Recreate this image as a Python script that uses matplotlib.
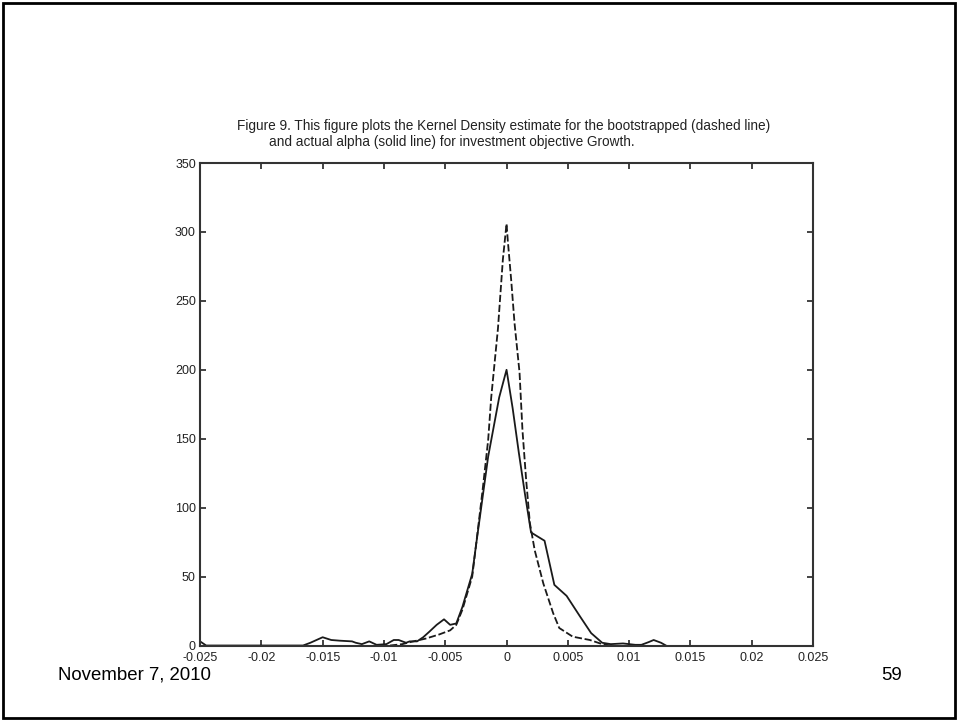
import matplotlib.pyplot as plt
from matplotlib.patches import Rectangle

plt.rcParams['font.family'] = ['Liberation Sans', 'DejaVu Sans']

# actual alpha (solid line)
actual_x = [-0.025, -0.0245, -0.0166, -0.016, -0.015, -0.0143, -0.0136, -0.0126, -0.0123, -0.0118,
            -0.0112, -0.0106, -0.0098, -0.0092, -0.0088, -0.0082, -0.0079, -0.0073, -0.0068, -0.0063,
            -0.0057, -0.0051, -0.0046, -0.0041, -0.0036, -0.0028, -0.0025, -0.0015, -0.0006, 0.0,
            0.0005, 0.001, 0.0015, 0.002, 0.0031, 0.0039, 0.0049, 0.006, 0.0069, 0.0078,
            0.0085, 0.0095, 0.0105, 0.011, 0.0116, 0.012, 0.0126, 0.013]
actual_y = [3, 0, 0, 2, 6, 4, 3.5, 3, 2, 1,
            3, 0.5, 1, 4, 4, 2, 3, 3, 6, 10,
            15, 19, 15, 16, 28, 52, 72, 137, 180, 200,
            172, 140, 110, 82, 76, 44, 36, 21, 9, 2,
            1, 1.5, 0.5, 0.5, 2.5, 4, 2, 0]

# bootstrapped alpha (dashed line)
boot_x = [-0.0095, -0.0085, -0.0077, -0.0066, -0.0055, -0.0046, -0.0041, -0.0036, -0.0028, -0.0025,
          -0.00195, -0.0015, -0.00125, -0.0007, -0.0003, 0.0, 0.0001, 0.00038, 0.00065, 0.00106,
          0.0013, 0.0016, 0.0019, 0.0023, 0.003, 0.0038, 0.0043, 0.0054, 0.0068, 0.0078, 0.0085]
boot_y = [0, 1, 2.8, 5, 8, 11, 15, 26, 50, 72,
          113, 149, 180, 230, 280, 306, 294, 265, 234, 198,
          156, 120, 89, 69, 45, 23.5, 12.7, 6.4, 4, 1, 0]

xticks = [-0.025, -0.02, -0.015, -0.01, -0.005, 0, 0.005, 0.01, 0.015, 0.02, 0.025]
xlabels = ['-0.025', '-0.02', '-0.015', '-0.01', '-0.005', '0', '0.005', '0.01', '0.015', '0.02', '0.025']
yticks = [0, 50, 100, 150, 200, 250, 300, 350]

fig = plt.figure(figsize=(9.59, 7.21), dpi=100)
ax = fig.add_axes([0.2086, 0.1047, 0.6392, 0.6692])

ax.plot(boot_x, boot_y, color='#1a1a1a', lw=1.3, linestyle=(0, (4, 1.5)))
ax.plot(actual_x, actual_y, color='#1a1a1a', lw=1.3)

ax.set_xlim(-0.025, 0.025)
ax.set_ylim(0, 350)
ax.set_xticks(xticks)
ax.set_xticklabels(xlabels)
ax.set_yticks(yticks)
ax.tick_params(direction='in', length=4, width=1.2, top=True, right=True,
               labelsize=9, colors='#222222')
ax.tick_params(axis='x', pad=5)
ax.tick_params(axis='y', pad=3)
for s in ax.spines.values():
    s.set_linewidth(1.5)
    s.set_color('#333333')

fig.text(237/959, 1-126/721, "Figure 9. This figure plots the Kernel Density estimate for the bootstrapped (dashed line)",
         fontsize=9.8, ha='left', va='center', color='#222222')
fig.text(269/959, 1-142/721, "and actual alpha (solid line) for investment objective Growth.",
         fontsize=9.8, ha='left', va='center', color='#222222')

fig.text(58/959, 1-675/721, "November 7, 2010", fontsize=13.4, ha='left', va='center')
fig.text(902/959, 1-675/721, "59", fontsize=13.4, ha='right', va='center')

fig.patches.append(Rectangle((3/959, 3/721), 952/959, 715/721, transform=fig.transFigure,
                             fill=False, edgecolor='black', lw=2))

fig.savefig('out.png', dpi=100)
